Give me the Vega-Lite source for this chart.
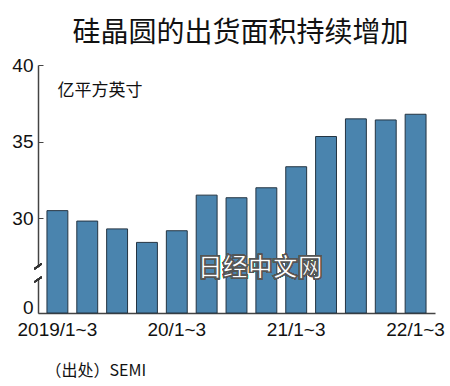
{
  "$schema": "https://vega.github.io/schema/vega-lite/v6.json",
  "width": 397,
  "height": 248,
  "autosize": "none",
  "padding": {"left": 38, "top": 65, "right": 15, "bottom": 73},
  "background": "white",
  "config": {"view": {"stroke": null}, "font": "Liberation Sans, sans-serif"},
  "title": {
    "text": "硅晶圆的出货面积持续增加",
    "font": "Noto Sans CJK SC",
    "fontSize": 28,
    "fontWeight": "normal",
    "color": "#111",
    "anchor": "middle",
    "dx": 4,
    "offset": 8
  },
  "data": {
    "values": [
      {"q": "2019/1~3", "v": 30.51},
      {"q": "19/4~6", "v": 29.83},
      {"q": "19/7~9", "v": 29.32},
      {"q": "19/10~12", "v": 28.44},
      {"q": "20/1~3", "v": 29.2},
      {"q": "20/4~6", "v": 31.52},
      {"q": "20/7~9", "v": 31.35},
      {"q": "20/10~12", "v": 32.0},
      {"q": "21/1~3", "v": 33.37},
      {"q": "21/4~6", "v": 35.34},
      {"q": "21/7~9", "v": 36.49},
      {"q": "21/10~12", "v": 36.42},
      {"q": "22/1~3", "v": 36.79}
    ]
  },
  "layer": [
    {
      "mark": {"type": "bar", "color": "#4a84ae", "stroke": "#243442", "strokeWidth": 1},
      "encoding": {
        "x": {
          "field": "q",
          "type": "ordinal",
          "sort": null,
          "scale": {"paddingInner": 0.3, "paddingOuter": 0.3},
          "axis": {
            "values": ["2019/1~3", "20/1~3", "21/1~3", "22/1~3"],
            "labelAngle": 0,
            "labelFont": "Liberation Sans, sans-serif",
            "labelFontSize": 19,
            "labelColor": "#111",
            "labelPadding": 7,
            "labelOverlap": false,
            "ticks": false,
            "domainColor": "#444",
            "domainWidth": 1.5,
            "zindex": 0,
            "title": "（出处）SEMI",
            "titleFont": "Noto Sans CJK SC",
            "titleFontSize": 16,
            "titleFontWeight": "normal",
            "titleColor": "#111",
            "titleAnchor": "start",
            "titleAlign": "left",
            "titleBaseline": "middle",
            "titleX": 7,
            "titleY": 57
          }
        },
        "y": {
          "field": "v",
          "type": "quantitative",
          "scale": {"domain": [23.84, 40], "nice": false, "zero": false},
          "axis": {
            "values": [23.84, 30, 35, 40],
            "labelExpr": "datum.value < 25 ? '0' : datum.label",
            "labelBaseline": {"condition": {"test": "datum.value < 25", "value": "alphabetic"}, "value": "middle"},
            "grid": false,
            "labelFont": "Liberation Sans, sans-serif",
            "labelFontSize": 19,
            "labelColor": "#111",
            "labelPadding": 10,
            "tickSize": -5,
            "tickColor": "#444",
            "domainColor": "#444",
            "domainWidth": 1.5,
            "zindex": 0,
            "title": "亿平方英寸",
            "titleFont": "Noto Sans CJK SC",
            "titleFontSize": 17,
            "titleFontWeight": "normal",
            "titleColor": "#111",
            "titleAngle": 0,
            "titleAlign": "left",
            "titleBaseline": "middle",
            "titleX": 19,
            "titleY": 25
          }
        },
        "y2": {"datum": 23.84}
      }
    },
    {
      "mark": {"type": "rect", "color": "white"},
      "encoding": {
        "x": {"datum": -0.01, "type": "quantitative", "scale": {"domain": [0, 1]}, "axis": null},
        "x2": {"datum": 0.01},
        "y": {"datum": 26.12},
        "y2": {"datum": 26.78}
      }
    },
    {
      "mark": {"type": "rule", "color": "#333", "strokeWidth": 1.5},
      "encoding": {
        "x": {"datum": -0.009, "type": "quantitative", "scale": {"domain": [0, 1]}, "axis": null},
        "x2": {"datum": 0.009},
        "y": {"datum": 26.72},
        "y2": {"datum": 27.04}
      }
    },
    {
      "mark": {"type": "rule", "color": "#333", "strokeWidth": 1.5},
      "encoding": {
        "x": {"datum": -0.009, "type": "quantitative", "scale": {"domain": [0, 1]}, "axis": null},
        "x2": {"datum": 0.009},
        "y": {"datum": 25.86},
        "y2": {"datum": 26.18}
      }
    },
    {
      "mark": {
        "type": "text",
        "text": "日经中文网",
        "font": "Noto Sans CJK SC",
        "fontSize": 25,
        "fontWeight": "bold",
        "fill": "white",
        "stroke": "#555",
        "strokeWidth": 1.3,
        "align": "center",
        "baseline": "middle"
      },
      "encoding": {
        "x": {"datum": 0.56, "type": "quantitative", "scale": {"domain": [0, 1]}, "axis": null},
        "y": {"datum": 26.78}
      }
    }
  ],
  "resolve": {"scale": {"x": "independent"}, "axis": {"x": "independent"}}
}
